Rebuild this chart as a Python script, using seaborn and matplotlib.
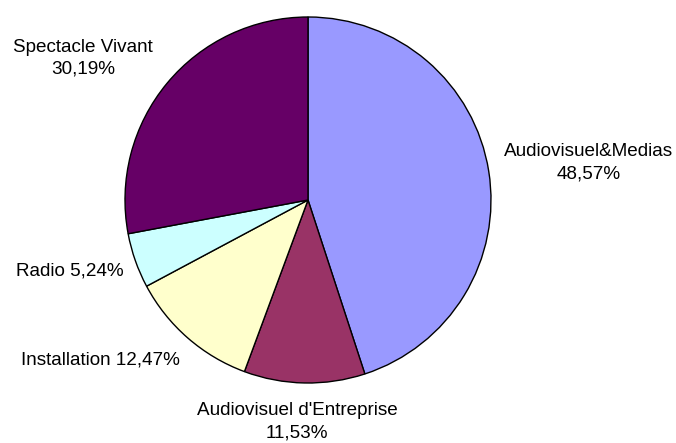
import seaborn as sns
import matplotlib
matplotlib.use("Agg")
import matplotlib.pyplot as plt

categories = ["Audiovisuel&Medias", "Audiovisuel d'Entreprise", "Installation", "Radio", "Spectacle Vivant"]
values = [48.57, 11.53, 12.47, 5.24, 30.19]
label_texts = ["Audiovisuel&Medias\n48,57%", "Audiovisuel d'Entreprise\n11,53%",
               "Installation 12,47%", "Radio 5,24%", "Spectacle Vivant\n30,19%"]
colors = ["#9999FF", "#993366", "#FFFFCC", "#CCFFFF", "#660066"]

# label anchor points (pie radius = 1)
label_pos = [(1.532, 0.205), (-0.06, -1.21), (-1.135, -0.875), (-1.3, -0.39), (-1.23, 0.775)]


def main():
    sns.set_style("white")
    plt.rcParams["font.family"] = ["Liberation Sans", "DejaVu Sans"]
    W, H = 676, 443
    fig = plt.figure(figsize=(W / 100, H / 100), dpi=100)
    cx, cy, r = 308, 200, 183
    ax = fig.add_axes([(cx - r) / W, (H - cy - r) / H, 2 * r / W, 2 * r / H])
    ax.pie(values, colors=colors, startangle=90, counterclock=False,
           wedgeprops=dict(edgecolor="black", linewidth=1.0))
    ax.set_xlim(-1, 1)
    ax.set_ylim(-1, 1)
    ax.set_aspect("auto")
    ax.axis("off")
    for txt, (x, y) in zip(label_texts, label_pos):
        ax.text(x, y, txt, ha="center", va="center", fontsize=13.6, color="black",
                linespacing=1.4, clip_on=False)
    fig.savefig("out.png", dpi=100, facecolor="white")


if __name__ == "__main__":
    main()
